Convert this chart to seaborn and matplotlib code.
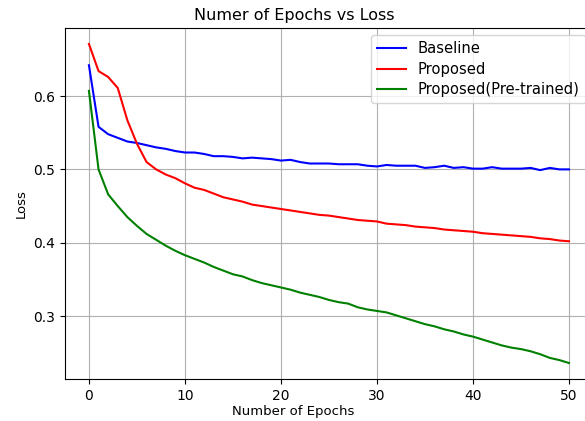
import numpy as np
import pandas as pd
import matplotlib
matplotlib.use("Agg")
import matplotlib.pyplot as plt
import seaborn as sns

epochs = list(range(51))
baseline = [0.642, 0.558, 0.548, 0.543, 0.538, 0.536, 0.533, 0.530, 0.528, 0.525,
            0.523, 0.523, 0.521, 0.518, 0.518, 0.517, 0.515, 0.516, 0.515, 0.514,
            0.512, 0.513, 0.510, 0.508, 0.508, 0.508, 0.507, 0.507, 0.507, 0.505,
            0.504, 0.506, 0.505, 0.505, 0.505, 0.502, 0.503, 0.505, 0.502, 0.503,
            0.501, 0.501, 0.503, 0.501, 0.501, 0.501, 0.502, 0.499, 0.502, 0.500,
            0.500]
proposed = [0.671, 0.634, 0.626, 0.611, 0.567, 0.535, 0.510, 0.500, 0.493, 0.488,
            0.481, 0.475, 0.472, 0.467, 0.462, 0.459, 0.456, 0.452, 0.450, 0.448,
            0.446, 0.444, 0.442, 0.440, 0.438, 0.437, 0.435, 0.433, 0.431, 0.430,
            0.429, 0.426, 0.425, 0.424, 0.422, 0.421, 0.420, 0.418, 0.417, 0.416,
            0.415, 0.413, 0.412, 0.411, 0.410, 0.409, 0.408, 0.406, 0.405, 0.403,
            0.402]
pretrained = [0.607, 0.500, 0.466, 0.450, 0.435, 0.423, 0.412, 0.404, 0.396, 0.389,
              0.383, 0.378, 0.373, 0.367, 0.362, 0.357, 0.354, 0.349, 0.345, 0.342,
              0.339, 0.336, 0.332, 0.329, 0.326, 0.322, 0.319, 0.317, 0.312, 0.309,
              0.307, 0.305, 0.301, 0.297, 0.293, 0.289, 0.286, 0.282, 0.279, 0.275,
              0.272, 0.268, 0.264, 0.260, 0.257, 0.255, 0.252, 0.248, 0.243, 0.240,
              0.236]
series_names = ["Baseline", "Proposed", "Proposed(Pre-trained)"]
colors = ["blue", "red", "green"]

df = pd.concat([
    pd.DataFrame({"Epoch": epochs, "Loss": vals, "Model": name})
    for name, vals in zip(series_names, [baseline, proposed, pretrained])
])

fig = plt.figure(figsize=(5.85, 4.21), dpi=100)
ax = fig.add_axes([0.111, 0.0998, 0.9027, 0.8337])
sns.lineplot(data=df, x="Epoch", y="Loss", hue="Model", hue_order=series_names,
             palette=colors, ax=ax, linewidth=1.5)
ax.grid(True)
ax.set_axisbelow(True)
ax.set_title("Numer of Epochs vs Loss", fontsize=11.5, x=0.434)
ax.set_xlabel("Number of Epochs", fontsize=9.5)
ax.set_ylabel("Loss", fontsize=9.5)
ax.xaxis.set_label_coords(0.432, -0.074)
ax.set_xticks([0, 10, 20, 30, 40, 50])
ax.set_yticks([0.3, 0.4, 0.5, 0.6])
ax.legend(loc="upper right", title=None, fontsize=10.6, labelspacing=0.38)
fig.savefig("out.png", dpi=100)
